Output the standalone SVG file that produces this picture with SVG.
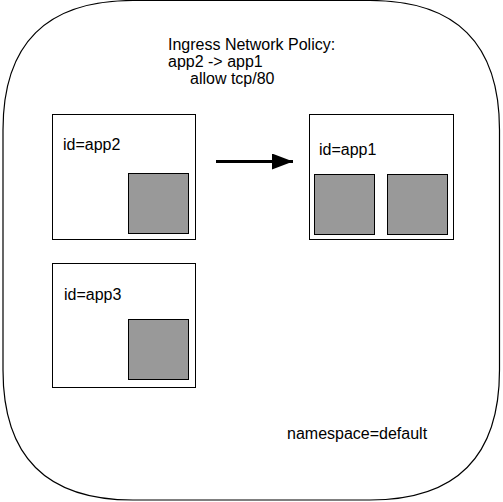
<svg xmlns="http://www.w3.org/2000/svg" width="503" height="502" viewBox="0 0 503 502">
  <style>
    .box { fill: #ffffff; stroke: #000000; stroke-width: 1; }
    .pod { fill: #999999; stroke: #000000; stroke-width: 1; }
    .lbl { font-family: "Liberation Sans", Arial, Helvetica, sans-serif; font-size: 16px; fill: #000000; }
    .edge { fill: none; stroke: #000000; stroke-width: 3; }
  </style>
  <defs>
    <marker id="arrow" markerUnits="userSpaceOnUse" markerWidth="22" markerHeight="18" refX="21" refY="8" orient="auto">
      <path d="M0,0 L21,8 L0,16 Z" fill="#000000"/>
    </marker>
  </defs>
  <rect width="503" height="502" fill="#ffffff"/>
  <g id="namespace">
    <path d="M3,130 L3,370 Q3,500 133,500 L370,500 Q499.5,500 499.5,370 L499.5,130 Q499.5,0.5 370,0.5 L133,0.5 Q3,0.5 3,130 Z" fill="#ffffff" stroke="#000000" stroke-width="1.2"/>
    <text class="lbl" x="287" y="439">namespace=default</text>
  </g>
  <g id="policy-label">
    <text class="lbl" x="168" y="50">Ingress Network Policy:</text>
    <text class="lbl" x="168" y="67">app2 -&gt; app1</text>
    <text class="lbl" x="190" y="84">allow tcp/80</text>
  </g>
  <g id="app2">
    <rect class="box" x="52.5" y="114.5" width="143" height="125"/>
    <text class="lbl" x="63" y="150">id=app2</text>
    <rect class="pod" x="128.5" y="173.5" width="60" height="60"/>
  </g>
  <g id="app1">
    <rect class="box" x="309.5" y="114.5" width="144" height="125"/>
    <text class="lbl" x="319" y="155">id=app1</text>
    <rect class="pod" x="314.5" y="174.5" width="60" height="60"/>
    <rect class="pod" x="387.5" y="174.5" width="60" height="60"/>
  </g>
  <g id="app3">
    <rect class="box" x="52.5" y="263.5" width="143" height="124"/>
    <text class="lbl" x="64" y="300">id=app3</text>
    <rect class="pod" x="128.5" y="319.5" width="60" height="60"/>
  </g>
  <g id="connectors">
    <line class="edge" x1="216" y1="161.5" x2="293" y2="161.5" marker-end="url(#arrow)"/>
  </g>
</svg>
